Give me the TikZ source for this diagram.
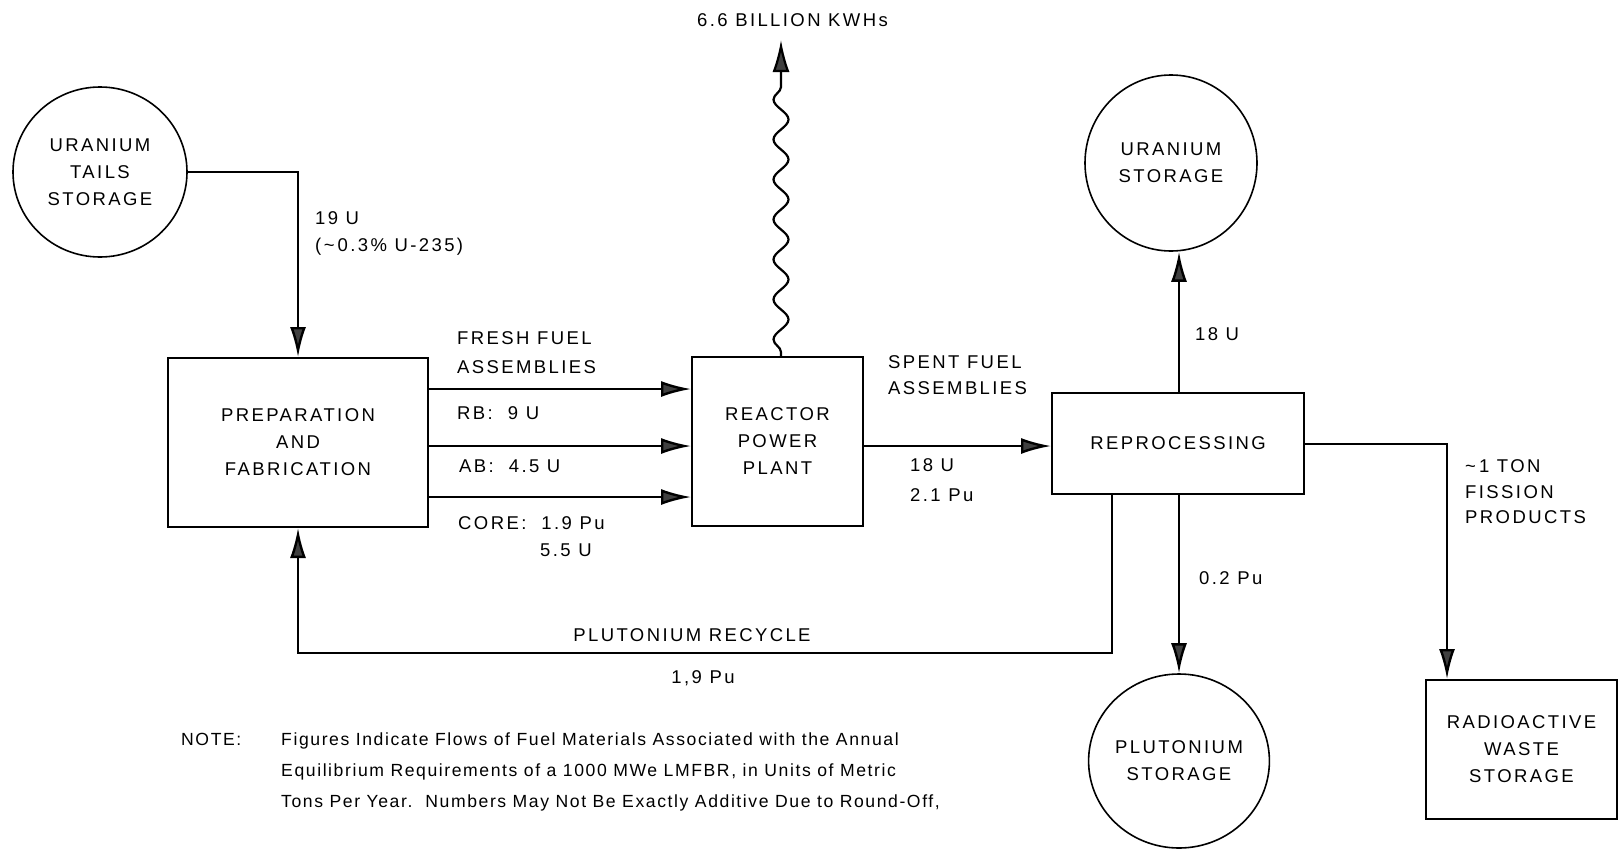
\documentclass[tikz,border=0pt]{standalone}
\usepackage{fontspec}
\setmainfont{Liberation Sans}[LetterSpace=13]
\newfontfamily\notefont{Liberation Sans}[LetterSpace=9]
\usetikzlibrary{arrows.meta,decorations.pathmorphing,shapes.geometric}
\begin{document}
\begin{tikzpicture}[x=1pt,y=-1pt,font=\fontsize{18.5}{27}\selectfont,
  box/.style={draw,line width=2pt,align=center,inner sep=0pt},
  store/.style={draw,ellipse,line width=1.6pt,align=center,inner sep=0pt},
  flow/.style={line width=2.4pt,-{Latex[length=30pt,width=16pt,fill=black!75]}},
  wave/.style={line width=2.2pt,decorate,decoration={snake,segment length=40pt,amplitude=7.5pt,pre length=4pt,post length=34pt},-{Latex[length=32pt,width=17pt,fill=black!75]}},
  lbl/.style={anchor=west,inner sep=0pt,text height=13pt,text depth=0pt},
  clbl/.style={inner sep=0pt,text height=13pt,text depth=0pt},
  notelbl/.style={anchor=west,inner sep=0pt,text height=12.5pt,text depth=0pt,font=\notefont\fontsize{17.6}{31}\selectfont}]
\useasboundingbox (0,0) rectangle (1620,849);
\fill[white] (0,0) rectangle (1620,849);

% nodes
\node[store,minimum width=174pt,minimum height=170pt] (tails) at (100,172) {URANIUM\\TAILS\\STORAGE};
\node[box,minimum width=260pt,minimum height=169pt] (prep) at (298,442.5) {PREPARATION\\AND\\FABRICATION};
\node[box,minimum width=171pt,minimum height=169pt] (reactor) at (777.5,441.5) {REACTOR\\POWER\\PLANT};
\node[box,minimum width=252pt,minimum height=101pt] (reproc) at (1178,443) {REPROCESSING};
\node[store,minimum width=172pt,minimum height=176pt] (ustore) at (1171,163) {URANIUM\\STORAGE};
\node[store,minimum width=172pt,minimum height=174pt] (pustore) at (1179,761) {PLUTONIUM\\STORAGE};
\node[box,minimum width=191pt,minimum height=139pt] (waste) at (1521.5,749.5) {RADIOACTIVE\\WASTE\\STORAGE};
\node[lbl] (kwh) at (697,20) {6.6 BILLION KWHs};

% helper coordinates
\coordinate (tc) at (298,172);
\coordinate (rbY) at (0,389);
\coordinate (abY) at (0,446);
\coordinate (coY) at (0,497);
\coordinate (spY) at (0,446);
\coordinate (wtop) at (781,40);
\coordinate (upX) at (1179,0);
\coordinate (rc) at (1112,653);
\coordinate (fc) at (1447,444);

% connectors
\draw[flow] (tails.east |- tc) -- (tc) -- (prep.north);
\draw[flow] (prep.east |- rbY) -- (reactor.west |- rbY);
\draw[flow] (prep.east |- abY) -- (reactor.west |- abY);
\draw[flow] (prep.east |- coY) -- (reactor.west |- coY);
\draw[wave] (reactor.north -| wtop) -- (wtop);
\draw[flow] (reactor.east |- spY) -- (reproc.west |- spY);
\draw[flow] (reproc.north -| upX) -- (ustore.south -| upX);
\draw[flow] (reproc.south -| upX) -- (pustore.north -| upX);
\draw[flow] (reproc.south -| rc) -- (rc) -| (prep.south);
\draw[flow] (reproc.east |- fc) -- (fc) -- (waste.north -| fc);

% labels
\node[lbl] (l19) at (315,218) {19 U};
\node[lbl] (l03) at (315,245) {(\textasciitilde\,0.3\% U-235)};
\node[lbl] (lff1) at (457,338) {FRESH FUEL};
\node[lbl] (lff2) at (457,367) {ASSEMBLIES};
\node[lbl] (lrb) at (457,413) {RB:\ \ 9 U};
\node[lbl] (lab) at (459,466) {AB:\ \ 4.5 U};
\node[lbl] (lco) at (458,523) {CORE:\ \ 1.9 Pu};
\node[lbl] (lco2) at (540,550) {5.5 U};
\node[lbl] (lsf1) at (888,362) {SPENT FUEL};
\node[lbl] (lsf2) at (888,388) {ASSEMBLIES};
\node[lbl] (l18a) at (910,465) {18 U};
\node[lbl] (l21) at (910,495) {2.1 Pu};
\node[lbl] (l18b) at (1195,334) {18 U};
\node[lbl] (l02) at (1199,578) {0.2 Pu};
\node[lbl] (lfp1) at (1465,466) {\textasciitilde\,1 TON};
\node[lbl] (lfp2) at (1465,492) {FISSION};
\node[lbl] (lfp3) at (1465,517) {PRODUCTS};
\node[clbl] (lpr) at (692,635) {PLUTONIUM RECYCLE};
\node[clbl] (lpr2) at (703,677) {1,9 Pu};

% note
\node[notelbl] (note) at (181,739) {NOTE:};
\node[notelbl] (n1) at (281,739) {Figures Indicate Flows of Fuel Materials Associated with the Annual};
\node[notelbl] (n2) at (281,770) {Equilibrium Requirements of a 1000 MWe LMFBR, in Units of Metric};
\node[notelbl] (n3) at (281,801) {Tons Per Year.\ \ Numbers May Not Be Exactly Additive Due to Round-Off,};
\end{tikzpicture}
\end{document}
